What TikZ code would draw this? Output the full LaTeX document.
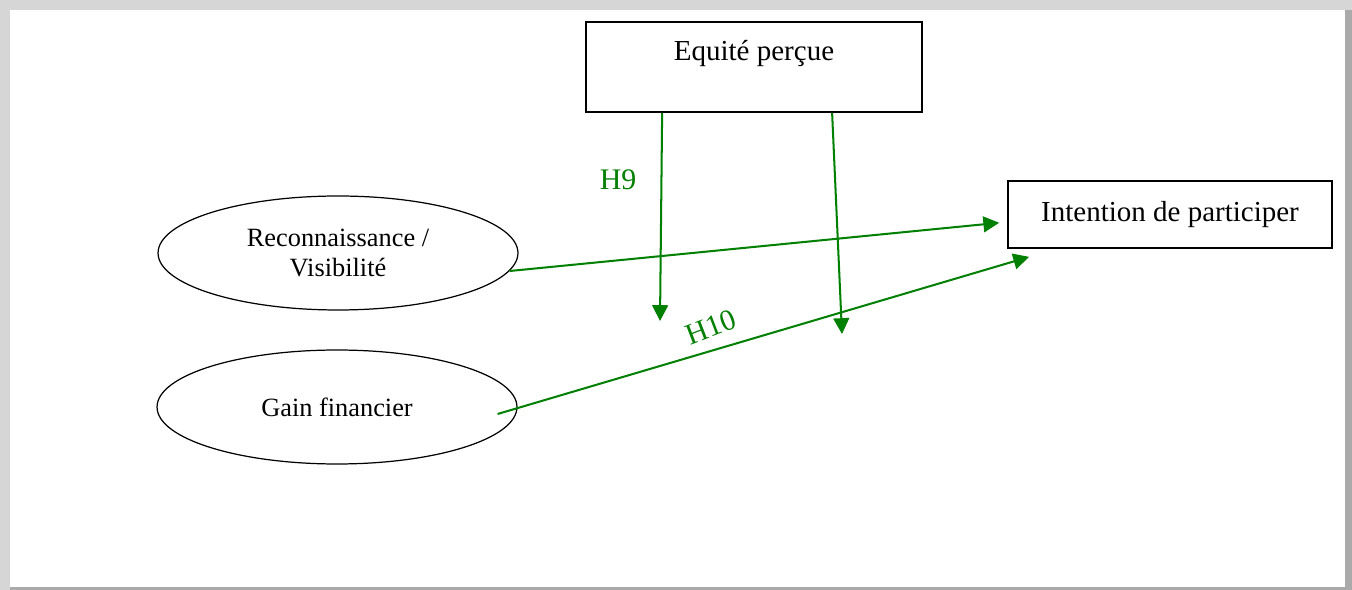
\documentclass[tikz,border=0pt]{standalone}
\usepackage{fontspec}
\setmainfont{Liberation Serif}
\usetikzlibrary{arrows.meta,positioning,calc,shapes.geometric}
\definecolor{hypgreen}{RGB}{0,128,0}
\definecolor{pageshadow}{RGB}{214,214,214}
\definecolor{pageedge}{RGB}{170,170,170}

\begin{document}
\begin{tikzpicture}[x=0.02cm, y=-0.02cm,
  varbox/.style={draw, line width=1pt, rectangle, inner sep=0pt},
  varoval/.style={draw, line width=0.7pt, ellipse, minimum width=7.2cm,
        minimum height=2.28cm, align=center, font=\fontsize{15}{17.6}\selectfont},
  hyp/.style={hypgreen, line width=1.15pt, -{Triangle[length=9pt,width=9pt]}},
  hyplabel/.style={text=hypgreen, font=\fontsize{17}{20}\selectfont}]
  % page and its shadow
  \fill[pageshadow] (0,0) rectangle (1352,590);
  \fill[pageedge] (1345,10) rectangle (1352,590);
  \fill[pageedge] (10,587) rectangle (1352,590);
  \fill[white] (10,10) rectangle (1345,587);

  \node[varbox, minimum width=6.72cm, minimum height=1.8cm, text depth=0.68cm,
        font=\fontsize{16.5}{20}\selectfont] (equite) at (754,67) {Equité perçue};
  \node[varbox, minimum width=6.48cm, minimum height=1.34cm,
        font=\fontsize{16.5}{20}\selectfont] (intent) at (1170,214.5) {Intention de participer};
  \node[varoval] (recon) at (338,253) {Reconnaissance /\\Visibilité};
  \node[varoval] (gain) at (337,407) {Gain financier};

  \coordinate (modA) at (660,321);
  \coordinate (modB) at (842,334);

  \draw[hyp, shorten >=0.16cm] (recon.-6) -- ([yshift=-0.15cm]intent.west);
  \draw[hyp] ([xshift=-0.4cm,yshift=-0.14cm]gain.east)
        -- ([xshift=0.44cm,yshift=-0.16cm]intent.south west);
  \draw[hyp] ([xshift=1.54cm]equite.south west) -- (modA);
  \draw[hyp] ([xshift=4.94cm]equite.south west) -- (modB);

  \node[hyplabel] (h9) at (618,180) {H9};
  \node[hyplabel, rotate=21] (h10) at (711,327) {H10};
\end{tikzpicture}
\end{document}
